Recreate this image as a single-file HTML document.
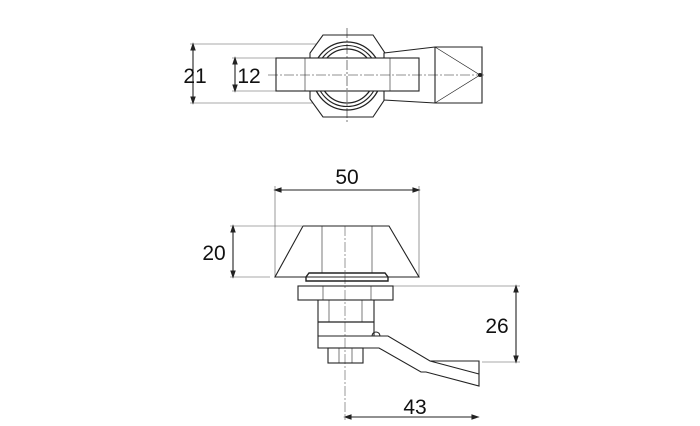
<!DOCTYPE html>
<html><head><style>html,body{margin:0;padding:0;background:#fff}svg{display:block}</style></head><body>
<svg width="700" height="426" viewBox="0 0 700 426" xmlns="http://www.w3.org/2000/svg" font-family="Liberation Sans, sans-serif">
<g fill="none" stroke="#222" stroke-width="1.1">
<!-- TOP VIEW -->
<g stroke-width="0.6" stroke="#555">
<line x1="190" y1="44" x2="322" y2="44"/><line x1="190" y1="103" x2="322" y2="103"/>
<line x1="232" y1="58" x2="276" y2="58"/><line x1="232" y1="91" x2="276" y2="91"/>
</g>
<line x1="193" y1="46" x2="193" y2="101"/><path d="M193 44l-2 6h4z M193 103l-2 -6h4z" fill="#222"/>
<line x1="235" y1="60" x2="235" y2="89"/><path d="M235 58l-2 6h4z M235 91l-2 -6h4z" fill="#222"/>
<polygon points="323,35 373,35 385,53 385,99 373,117 323,117 310,99 310,53" fill="#fff"/>
<circle cx="347" cy="76" r="34" stroke-width="1.3"/>
<circle cx="347" cy="76" r="30.5"/>
<circle cx="347" cy="76" r="27" stroke-width="1.3"/>
<polygon points="384,53 435,47 482,47 482,103 435,103 384,100" fill="#fff"/>
<line x1="435" y1="47" x2="435" y2="103"/>
<polyline points="435,47 480,75 435,103" stroke-width="0.7"/>
<rect x="276" y="58" width="143" height="33" fill="#fff"/>
<line x1="305" y1="58" x2="305" y2="91" stroke-width="0.6"/>
<line x1="390" y1="58" x2="390" y2="91" stroke-width="0.6"/>
<line x1="268" y1="75" x2="484" y2="75" stroke-width="0.6" stroke-dasharray="10,2,2,2"/>
<line x1="347" y1="28" x2="347" y2="124" stroke-width="0.6" stroke-dasharray="10,2,2,2"/>
<circle cx="480" cy="75" r="1.5" fill="#222"/>
<!-- BOTTOM VIEW -->
<g stroke-width="0.6" stroke="#555">
<line x1="275" y1="186" x2="275" y2="277"/><line x1="419" y1="186" x2="419" y2="277"/>
<line x1="230" y1="226" x2="302" y2="226"/><line x1="230" y1="277" x2="270" y2="277"/>
<line x1="393" y1="286" x2="520" y2="286"/><line x1="482" y1="362" x2="520" y2="362"/>
<line x1="345" y1="226" x2="345" y2="420" stroke-dasharray="10,2,2,2"/>
</g>
<line x1="277" y1="190" x2="417" y2="190"/><path d="M275 190l6 -2v4z M419 190l-6 -2v4z" fill="#222"/>
<line x1="233" y1="228" x2="233" y2="275"/><path d="M233 226l-2 6h4z M233 277l-2 -6h4z" fill="#222"/>
<line x1="516" y1="288" x2="516" y2="360"/><path d="M516 286l-2 6h4z M516 362l-2 -6h4z" fill="#222"/>
<line x1="347" y1="417" x2="476" y2="417"/><path d="M345 417l6 -2v4z M478 417l-6 -2v4z" fill="#222"/>
<polygon points="303,226 389,226 419,277 275,277"/>
<line x1="322" y1="226" x2="322" y2="273" stroke-width="0.6"/>
<line x1="372" y1="226" x2="372" y2="273" stroke-width="0.6"/>
<path d="M309 273h76l3 4v4h-82v-4z" stroke-width="1.4"/>
<rect x="298" y="286" width="95" height="14"/>
<line x1="323" y1="286" x2="323" y2="300" stroke-width="0.6"/>
<line x1="371" y1="286" x2="371" y2="300" stroke-width="0.6"/>
<path d="M318 300v36 M374 300v36" />
<line x1="329" y1="300" x2="329" y2="322" stroke-width="0.6"/>
<line x1="362" y1="300" x2="362" y2="322" stroke-width="0.6"/>
<line x1="318" y1="322" x2="374" y2="322" stroke-width="1.3"/>
<path d="M372 336a4 4 0 0 1 8 0"/>
<path d="M318 336h70l42 25h49v25l-53 -14h-5l-42 -24h-61z"/>
<line x1="430" y1="361" x2="479" y2="374"/>
<rect x="328" y="348" width="35" height="15"/>
<line x1="339" y1="348" x2="339" y2="363" stroke-width="0.6"/>
<line x1="352" y1="348" x2="352" y2="363" stroke-width="0.6"/>
</g>
<g font-size="21" fill="#111" text-anchor="middle">
<text x="195" y="83">21</text>
<text x="249" y="83">12</text>
<text x="347" y="184">50</text>
<text x="214" y="260">20</text>
<text x="497" y="333">26</text>
<text x="415" y="414">43</text>
</g>
</svg>
</body></html>
